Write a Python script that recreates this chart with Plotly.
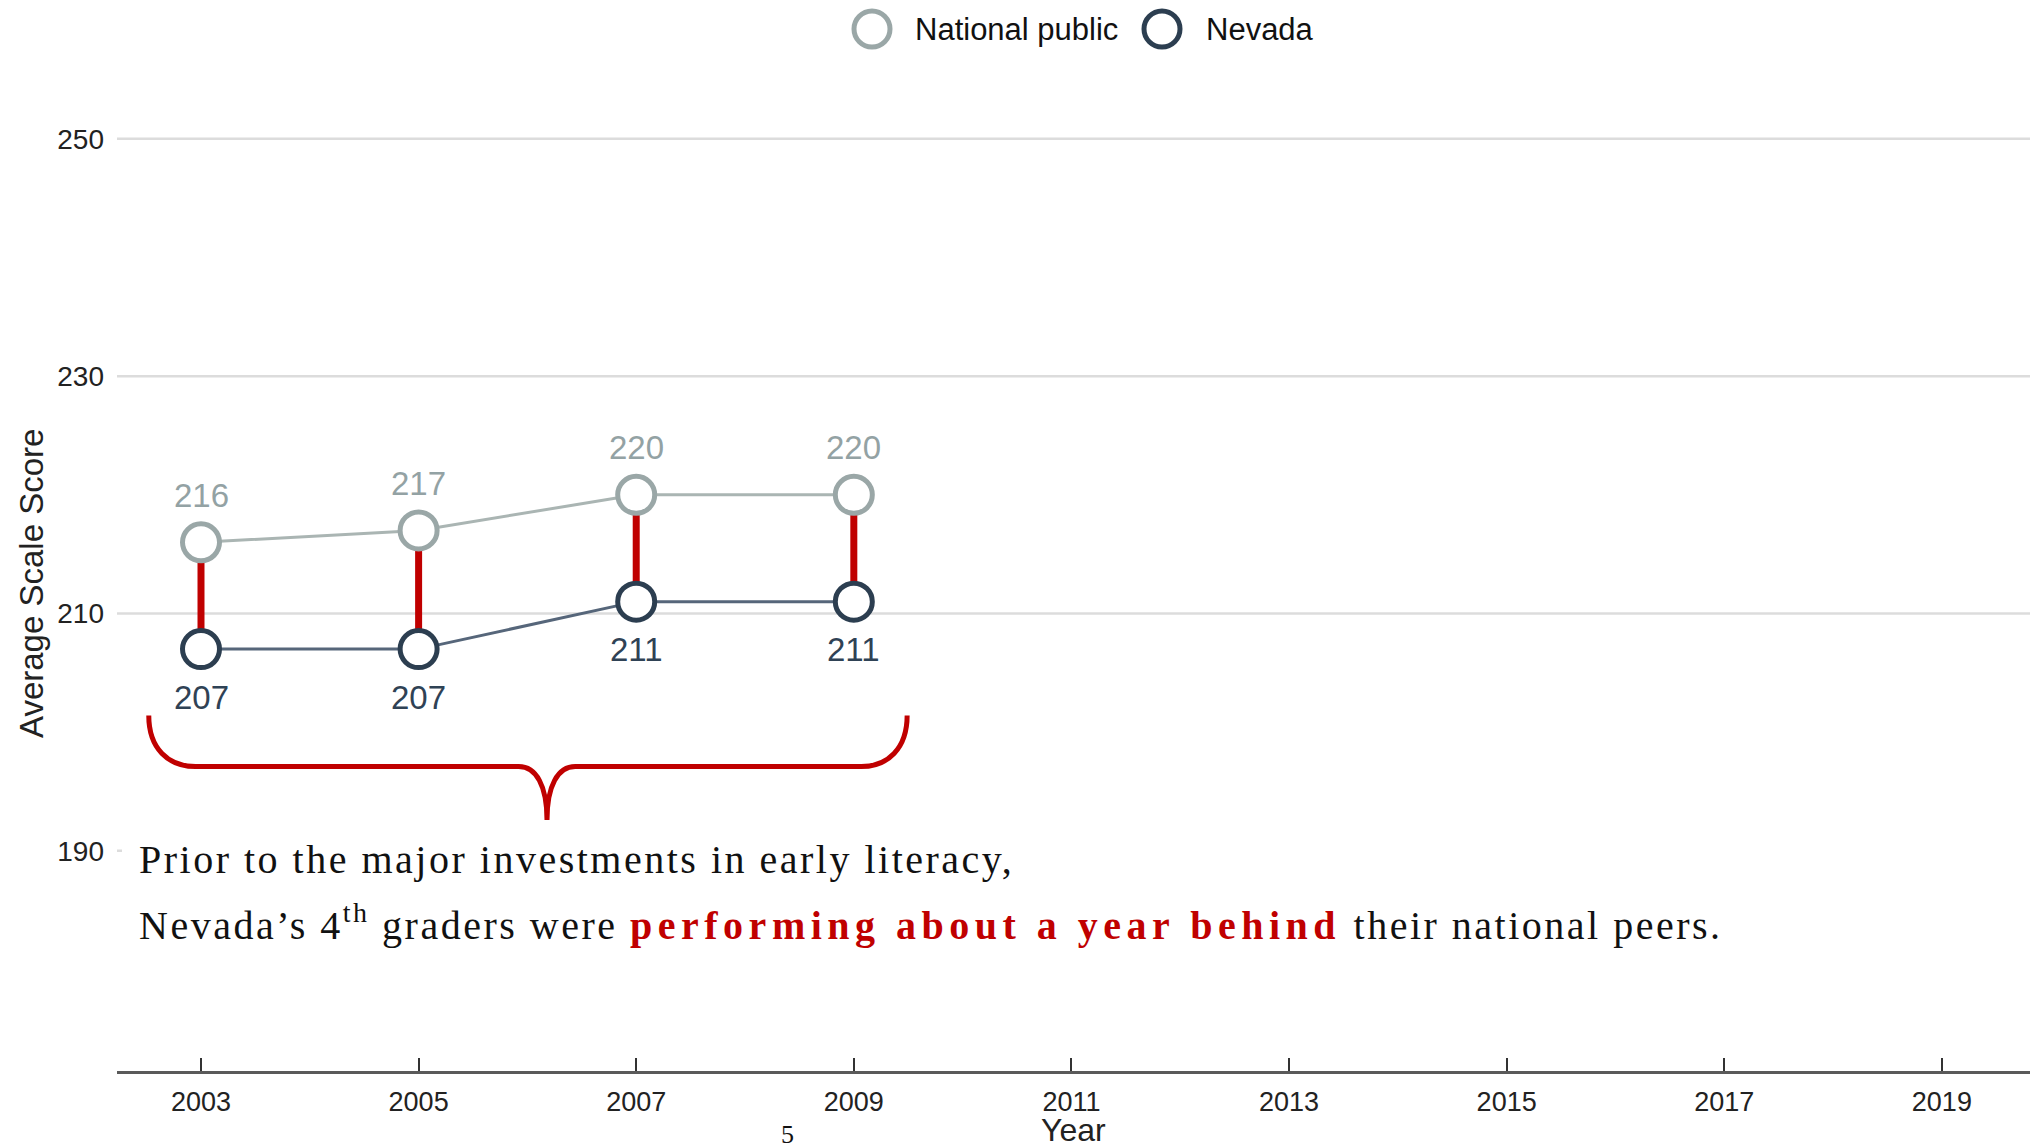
import plotly.graph_objects as go

# ---- data -------------------------------------------------------------
years = [2003, 2005, 2007, 2009]
national_public = [216, 217, 220, 220]
nevada = [207, 207, 211, 211]

x_ticks = [2003, 2005, 2007, 2009, 2011, 2013, 2015, 2017, 2019]
y_ticks = [190, 210, 230, 250]

series_names = ["National public", "Nevada"]

# ---- styling ----------------------------------------------------------
W, H = 2034, 1144
M_L, M_R, M_T, M_B = 117, 4, 121, 73
PLOT_W = W - M_L - M_R
PLOT_H = H - M_T - M_B

NP_RING = "#9aa7a7"
NP_LINE = "#aab5b3"
NP_TEXT = "#93a2a4"
NV_RING = "#2c3e50"
NV_LINE = "#56667a"
NV_TEXT = "#2f4255"
RED = "#c00000"
SANS = "Liberation Sans, Arial, sans-serif"
SERIF = "Liberation Serif, Times New Roman, serif"


def paper_x(px):
    return (px - M_L) / PLOT_W


def paper_y(py):
    return (H - M_B - py) / PLOT_H


fig = go.Figure()

# red gap connectors between the two series
gap_x, gap_y = [], []
for yr, a, b in zip(years, national_public, nevada):
    gap_x += [yr, yr, None]
    gap_y += [a, b, None]
fig.add_trace(go.Scatter(x=gap_x, y=gap_y, mode="lines",
                         line=dict(color=RED, width=7),
                         hoverinfo="skip", showlegend=False))

fig.add_trace(go.Scatter(
    x=years, y=national_public, mode="lines+markers", name=series_names[0],
    line=dict(color=NP_LINE, width=3),
    marker=dict(size=37, color="white", line=dict(color=NP_RING, width=5)),
    showlegend=False))
fig.add_trace(go.Scatter(
    x=years, y=nevada, mode="lines+markers", name=series_names[1],
    line=dict(color=NV_LINE, width=3),
    marker=dict(size=37, color="white", line=dict(color=NV_RING, width=5)),
    showlegend=False))

annotations = []
# value labels
for yr, v in zip(years, national_public):
    annotations.append(dict(x=yr, y=v, text=str(v), showarrow=False,
                            yshift=47, font=dict(family=SANS, size=33, color=NP_TEXT)))
for yr, v in zip(years, nevada):
    annotations.append(dict(x=yr, y=v, text=str(v), showarrow=False,
                            yshift=-48, font=dict(family=SANS, size=33, color=NV_TEXT)))

# axis titles
annotations.append(dict(x=paper_x(31), y=paper_y(584), xref="paper", yref="paper",
                        xanchor="center", yanchor="middle", textangle=-90, showarrow=False,
                        text="Average Scale Score",
                        font=dict(family=SANS, size=33, color="#222222")))
annotations.append(dict(x=0.5, y=paper_y(1130), xref="paper", yref="paper",
                        xanchor="center", yanchor="middle", showarrow=False,
                        text="Year", font=dict(family=SANS, size=32, color="#222222")))

shapes = []
# horizontal gridlines
for v in y_ticks:
    shapes.append(dict(type="line", xref="paper", yref="y", layer="below",
                       x0=0, x1=1, y0=v, y1=v, line=dict(color="#dcdcdc", width=2.5)))

# text box background (hides the lowest gridline)
shapes.append(dict(type="rect", xref="paper", yref="paper", layer="below",
                   x0=paper_x(122), x1=1, y0=paper_y(948), y1=paper_y(828),
                   fillcolor="white", line=dict(width=0)))

# custom legend with large rings
legend_items = [(series_names[0], NP_RING, 872, 913), (series_names[1], NV_RING, 1162, 1204)]
for name, col, cx, tx in legend_items:
    shapes.append(dict(type="circle", xref="paper", yref="paper",
                       xsizemode="pixel", ysizemode="pixel",
                       xanchor=paper_x(cx), yanchor=paper_y(29),
                       x0=-18, x1=18, y0=-18, y1=18,
                       line=dict(color=col, width=5), fillcolor="white"))
    annotations.append(dict(x=paper_x(tx), y=paper_y(29), xref="paper", yref="paper",
                            xanchor="left", yanchor="middle", text=name, showarrow=False,
                            font=dict(family=SANS, size=31, color="#111111")))

# curly brace under the early years
bl, br, tip = years[0] - 0.48, years[-1] + 0.49, 2006.18
top_y, mid_y, tip_y = 201.4, 197.1, 192.6
brace = (f"M {bl},{top_y} C {bl},{mid_y + 1.5} {bl + 0.18},{mid_y} {bl + 0.43},{mid_y} "
         f"L {tip - 0.26},{mid_y} C {tip - 0.1},{mid_y} {tip},{mid_y - 1.6} {tip},{tip_y} "
         f"C {tip},{mid_y - 1.6} {tip + 0.1},{mid_y} {tip + 0.26},{mid_y} "
         f"L {br - 0.42},{mid_y} C {br - 0.18},{mid_y} {br},{mid_y + 1.5} {br},{top_y}")
shapes.append(dict(type="path", xref="x", yref="y", path=brace,
                   line=dict(color=RED, width=5)))

# narrative text
SP = "letter-spacing:2.5px"
annotations.append(dict(x=paper_x(137), y=paper_y(860), xref="paper", yref="paper",
                        xanchor="left", yanchor="middle", showarrow=False,
                        text=f"<span style='{SP}'>Prior to the major investments in early literacy,</span>",
                        font=dict(family=SERIF, size=40, color="#111111")))
annotations.append(dict(x=paper_x(137), y=paper_y(922), xref="paper", yref="paper",
                        xanchor="left", yanchor="middle", showarrow=False,
                        text=(f"<span style='{SP}'>Nevada\u2019s 4<sup>th</sup> graders were </span>"
                              f"<b><span style='color:{RED};letter-spacing:5.5px'>performing about a year behind</span></b>"
                              f"<span style='{SP}'> their national peers.</span>"),
                        font=dict(family=SERIF, size=40, color="#111111")))

# page number
annotations.append(dict(x=paper_x(787), y=paper_y(1118), xref="paper", yref="paper",
                        xanchor="center", yanchor="top", showarrow=False, text="5",
                        font=dict(family=SERIF, size=26, color="#111111")))

fig.update_layout(
    width=W, height=H,
    margin=dict(l=M_L, r=M_R, t=M_T, b=M_B, pad=0),
    paper_bgcolor="white", plot_bgcolor="white",
    showlegend=False,
    shapes=shapes, annotations=annotations,
    xaxis=dict(range=[2002.228, 2019.81], tickvals=x_ticks, ticktext=[str(t) for t in x_ticks],
               showgrid=False, zeroline=False, showline=True, linecolor="#5a5a5a", linewidth=2.5,
               ticks="inside", ticklen=13, tickwidth=1.5, tickcolor="#333333",
               ticklabelstandoff=5,
               tickfont=dict(family=SANS, size=27, color="#222222"),
               automargin=False),
    yaxis=dict(range=[171.45, 251.5], tickvals=y_ticks, ticktext=[str(t) for t in y_ticks],
               showgrid=False, zeroline=False, showline=False,
               ticks="", ticklabelstandoff=12,
               tickfont=dict(family=SANS, size=28, color="#222222"),
               automargin=False),
)

fig.write_html("out.html")
